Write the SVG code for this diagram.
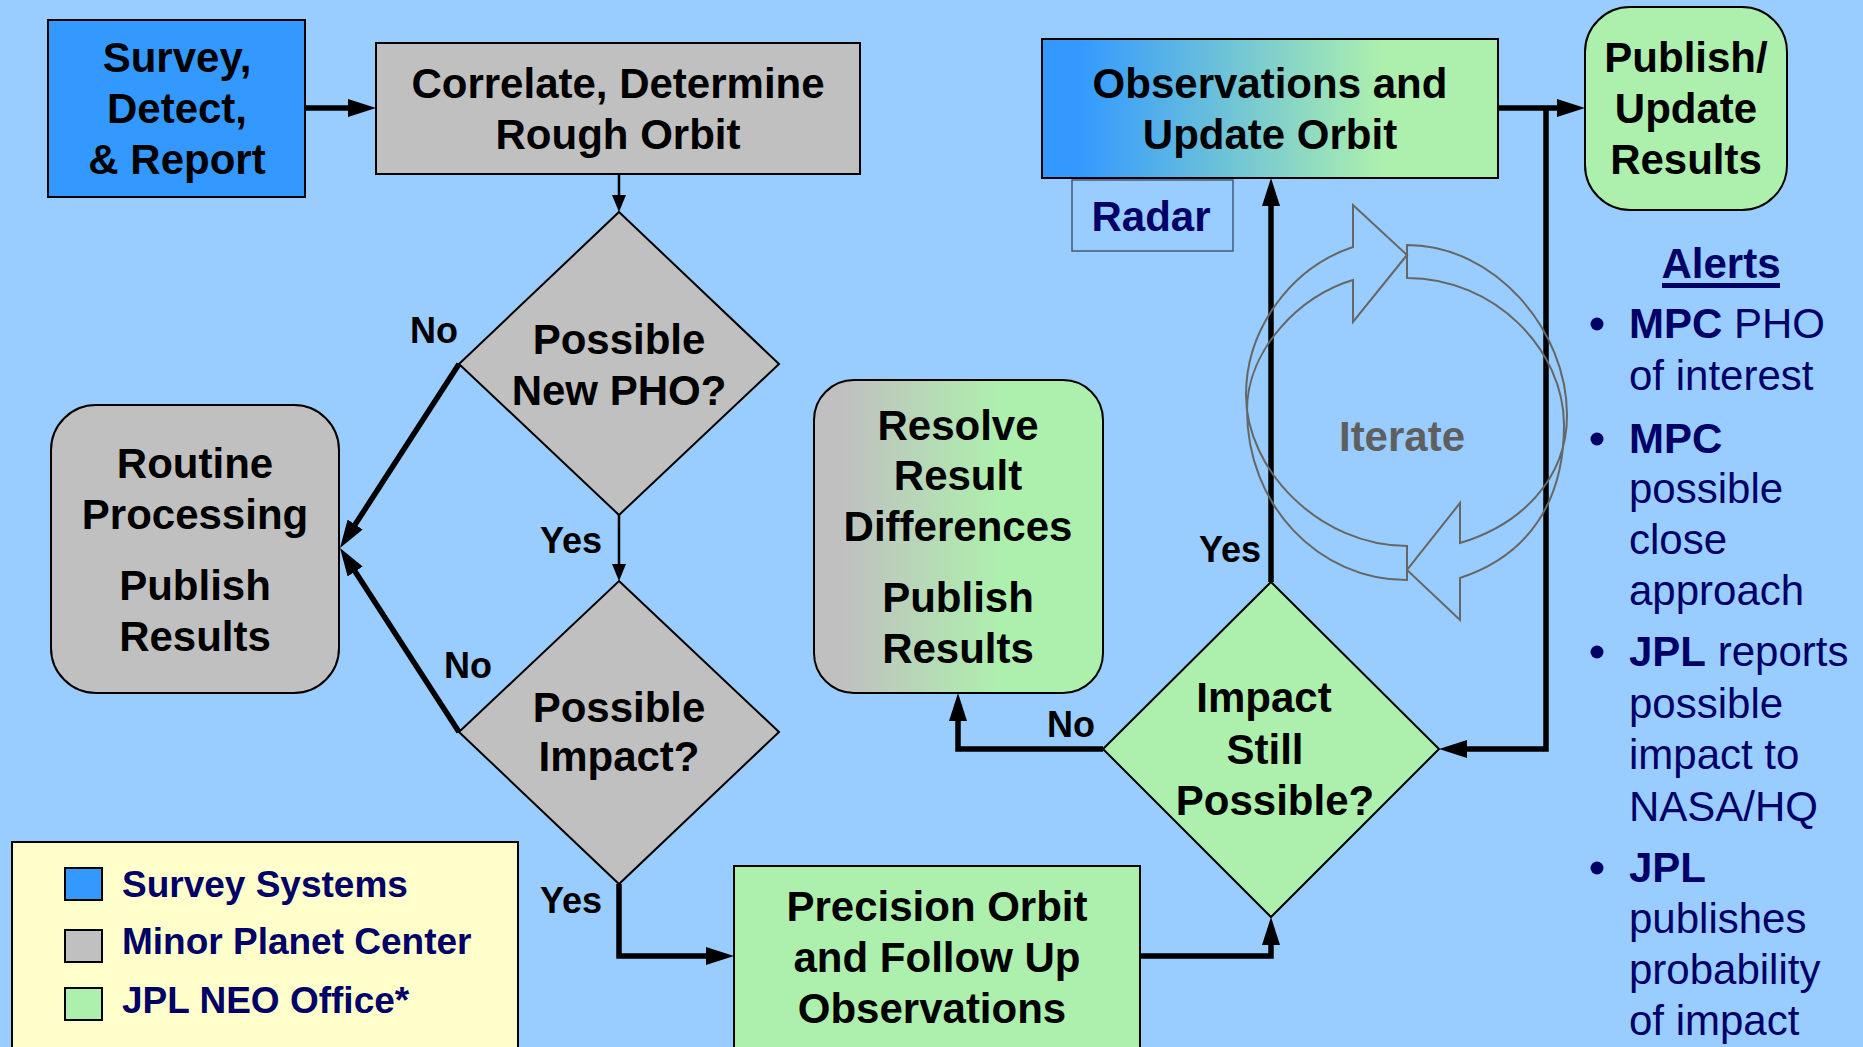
<svg xmlns="http://www.w3.org/2000/svg" width="1863" height="1047" viewBox="0 0 1863 1047">
<defs>
<style>
.t{font-family:"Liberation Sans",Arial,sans-serif;font-weight:bold;font-size:42px;fill:#000;text-anchor:middle}
.lbl{font-family:"Liberation Sans",Arial,sans-serif;font-weight:bold;font-size:36px;fill:#000}
.nv{font-family:"Liberation Sans",Arial,sans-serif;font-size:42px;fill:#000066}
.lg{font-family:"Liberation Sans",Arial,sans-serif;font-weight:bold;font-size:37px;fill:#000066}
.b{font-weight:bold}
.box{stroke:#000;stroke-width:2}
.gray{fill:#C0C0C0}
.green{fill:#ADF0AD}
.blue{fill:#3399FF}
.conn{fill:none;stroke:#000;stroke-width:5.5}
.thin{fill:none;stroke:#000;stroke-width:2.5}
.iter{fill:none;stroke:#666;stroke-width:2}
</style>
<linearGradient id="gObs" x1="0" y1="0" x2="1" y2="0">
<stop offset="0" stop-color="#3399FF"/>
<stop offset="0.08" stop-color="#3399FF"/>
<stop offset="0.75" stop-color="#ADF0AD"/>
<stop offset="1" stop-color="#ADF0AD"/>
</linearGradient>
<linearGradient id="gRes" x1="0" y1="0" x2="1" y2="0">
<stop offset="0" stop-color="#C0C0C0"/>
<stop offset="0.1" stop-color="#C0C0C0"/>
<stop offset="0.65" stop-color="#ADF0AD"/>
<stop offset="1" stop-color="#ADF0AD"/>
</linearGradient>
<marker id="ah" markerUnits="userSpaceOnUse" markerWidth="28" markerHeight="18" refX="18" refY="9" orient="auto">
<path d="M0,0 L28,9 L0,18 z" fill="#000"/>
</marker>
<marker id="ahs" markerUnits="userSpaceOnUse" markerWidth="17" markerHeight="14" refX="12" refY="7" orient="auto">
<path d="M0,0 L17,7 L0,14 z" fill="#000"/>
</marker>
</defs>
<rect width="1863" height="1047" fill="#99CCFF"/>

<g id="connectors">
<path class="conn" d="M305,108 L366,108" marker-end="url(#ah)"/>
<path class="thin" d="M619,174 L619,207" marker-end="url(#ahs)"/>
<path class="conn" d="M459,364 L345.4,539.6" marker-end="url(#ah)"/>
<path class="thin" d="M619,515 L619,576" marker-end="url(#ahs)"/>
<path class="conn" d="M459,732 L345.4,556.4" marker-end="url(#ah)"/>
<path class="conn" d="M619,884 L619,956 L724,956" marker-end="url(#ah)"/>
<path class="conn" d="M1140,956 L1271,956 L1271,927" marker-end="url(#ah)"/>
<path class="conn" d="M1103,749 L958,749 L958,703" marker-end="url(#ah)"/>
<path class="conn" d="M1271,582 L1271,188" marker-end="url(#ah)"/>
<path class="conn" d="M1498,108 L1575,108" marker-end="url(#ah)"/>
<path class="conn" d="M1546,108 L1546,749 L1449,749" marker-end="url(#ah)"/>
</g>

<g id="survey">
<rect class="box blue" x="48" y="20" width="257" height="177"/>
<text class="t" x="177" y="72">Survey,</text>
<text class="t" x="177" y="123">Detect,</text>
<text class="t" x="177" y="174">&amp; Report</text>
</g>

<g id="correlate">
<rect class="box gray" x="376" y="43" width="484" height="131"/>
<text class="t" x="618" y="98">Correlate, Determine</text>
<text class="t" x="618" y="149">Rough Orbit</text>
</g>

<g id="possible-new-pho">
<polygon class="box gray" points="619,212 779,364 619,515 459,364"/>
<text class="t" x="619" y="354">Possible</text>
<text class="t" x="619" y="405">New PHO?</text>
</g>

<g id="routine">
<rect class="box gray" x="51" y="405" width="288" height="288" rx="45"/>
<text class="t" x="195" y="478">Routine</text>
<text class="t" x="195" y="529">Processing</text>
<text class="t" x="195" y="600">Publish</text>
<text class="t" x="195" y="651">Results</text>
</g>

<g id="possible-impact">
<polygon class="box gray" points="619,581 779,732 619,884 459,732"/>
<text class="t" x="619" y="722">Possible</text>
<text class="t" x="619" y="771">Impact?</text>
</g>

<g id="precision">
<rect class="box green" x="734" y="866" width="406" height="200"/>
<text class="t" x="937" y="921">Precision Orbit</text>
<text class="t" x="937" y="972">and Follow Up</text>
<text class="t" x="932" y="1023">Observations</text>
</g>

<g id="impact-still-possible">
<polygon class="box green" points="1271,582 1439,749 1271,917 1103,749"/>
<text class="t" x="1264" y="712">Impact</text>
<text class="t" x="1265" y="764">Still</text>
<text class="t" x="1275" y="815">Possible?</text>
</g>

<g id="resolve">
<rect class="box" fill="url(#gRes)" x="814" y="380" width="289" height="313" rx="40"/>
<text class="t" x="958" y="440">Resolve</text>
<text class="t" x="958" y="490">Result</text>
<text class="t" x="958" y="541">Differences</text>
<text class="t" x="958" y="612">Publish</text>
<text class="t" x="958" y="663">Results</text>
</g>

<g id="observations">
<rect class="box" fill="url(#gObs)" x="1042" y="39" width="456" height="139"/>
<text class="t" x="1270" y="98">Observations and</text>
<text class="t" x="1270" y="149">Update Orbit</text>
</g>

<g id="radar">
<rect x="1072" y="180" width="161" height="71" fill="none" stroke="#44597A" stroke-width="1.5"/>
<text class="t" x="1151" y="231" style="fill:#000066">Radar</text>
</g>

<g id="publish">
<rect class="box green" x="1585" y="7" width="202" height="203" rx="45"/>
<text class="t" x="1686" y="72">Publish/</text>
<text class="t" x="1686" y="123">Update</text>
<text class="t" x="1686" y="174">Results</text>
</g>

<g id="labels">
<text class="lbl" x="410" y="343">No</text>
<text class="lbl" x="540" y="553">Yes</text>
<text class="lbl" x="444" y="678">No</text>
<text class="lbl" x="540" y="913">Yes</text>
<text class="lbl" x="1047" y="737">No</text>
<text class="lbl" x="1199" y="562">Yes</text>
</g>

<g id="iterate">
<path class="iter" d="M1407,580 C1318,580 1247,505 1247,410 C1247,350 1300,295 1353,280 L1353,322 L1407,255 L1353,205 L1353,247 C1290,268 1246,330 1246,395 C1246,470 1320,546 1407,546 Z"/>
<path class="iter" d="M1407,245 C1495,245 1567,330 1567,415 C1567,480 1520,525 1460,543 L1460,503 L1407,570 L1460,620 L1460,578 C1530,555 1564,500 1564,425 C1564,350 1495,278 1407,278 Z"/>
<text class="t" x="1402" y="451" style="fill:#5F5F5F">Iterate</text>
</g>

<g id="alerts">
<text class="t" x="1721" y="278" style="fill:#000066">Alerts</text>
<rect x="1662" y="283" width="118" height="5" fill="#000066"/>
<circle cx="1597" cy="324" r="6.5" fill="#000066"/>
<circle cx="1597" cy="439" r="6.5" fill="#000066"/>
<circle cx="1597" cy="652" r="6.5" fill="#000066"/>
<circle cx="1597" cy="868" r="6.5" fill="#000066"/>
<text class="nv" x="1629" y="338"><tspan class="b">MPC</tspan> PHO</text>
<text class="nv" x="1629" y="390">of interest</text>
<text class="nv b" x="1629" y="453">MPC</text>
<text class="nv" x="1629" y="503">possible</text>
<text class="nv" x="1629" y="554">close</text>
<text class="nv" x="1629" y="605">approach</text>
<text class="nv" x="1629" y="666"><tspan class="b">JPL</tspan> reports</text>
<text class="nv" x="1629" y="718">possible</text>
<text class="nv" x="1629" y="769">impact to</text>
<text class="nv" x="1629" y="821">NASA/HQ</text>
<text class="nv b" x="1629" y="882">JPL</text>
<text class="nv" x="1629" y="933">publishes</text>
<text class="nv" x="1629" y="984">probability</text>
<text class="nv" x="1629" y="1035">of impact</text>
</g>

<g id="legend">
<rect x="12" y="842" width="506" height="215" fill="#FFFFCC" stroke="#000" stroke-width="2"/>
<rect class="box blue" x="65" y="868" width="37" height="32"/>
<rect class="box gray" x="65" y="930" width="37" height="32"/>
<rect class="box green" x="65" y="988" width="37" height="32"/>
<text class="lg" x="122" y="897">Survey Systems</text>
<text class="lg" x="122" y="954">Minor Planet Center</text>
<text class="lg" x="122" y="1013">JPL NEO Office*</text>
</g>
</svg>
